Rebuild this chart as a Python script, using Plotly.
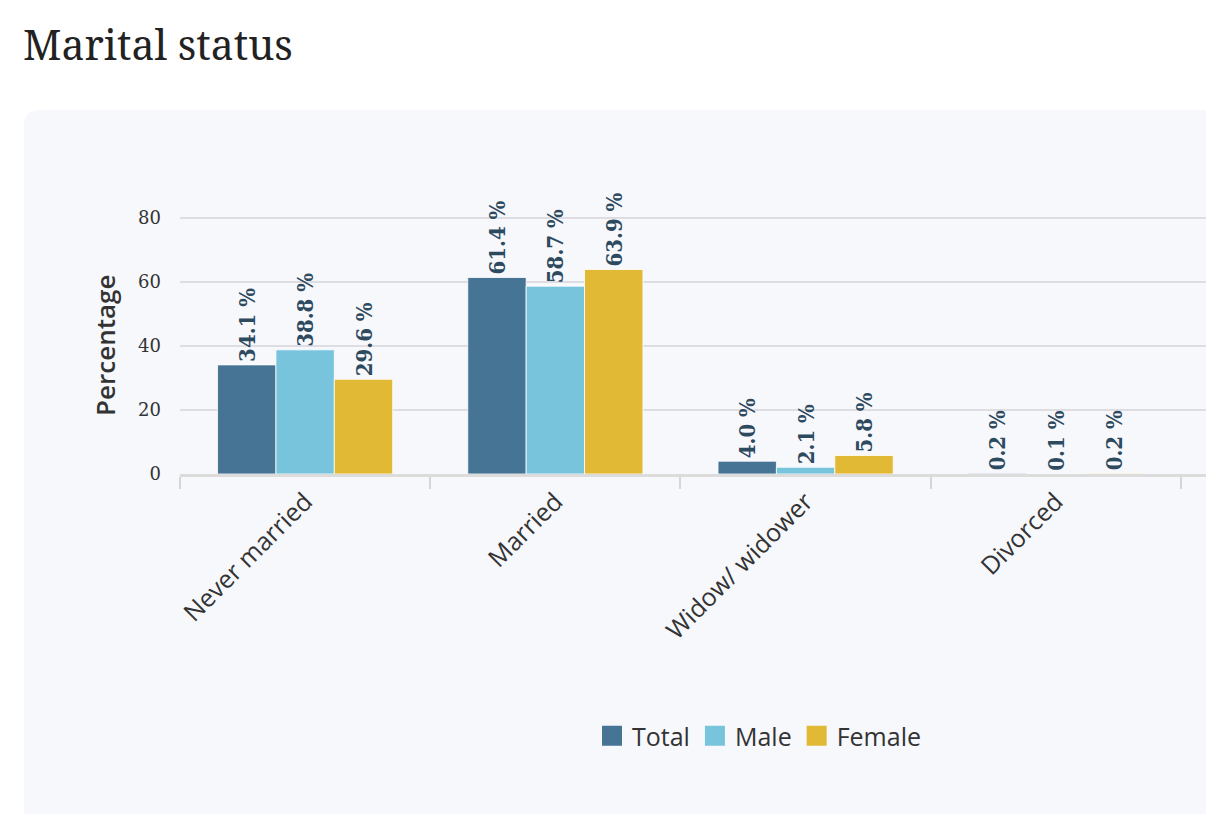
import plotly.graph_objects as go

categories = ["Never married", "Married", "Widow/ widower", "Divorced"]
total = [34.1, 61.4, 4.0, 0.2]
male = [38.8, 58.7, 2.1, 0.1]
female = [29.6, 63.9, 5.8, 0.2]
series_names = ["Total", "Male", "Female"]
y_ticks = [0, 20, 40, 60, 80]

colors = ["#467494", "#79c4dd", "#e1b935"]
W, H = 1206, 814

def px_x(p):
    return p / W

def px_y(p):
    return 1 - p / H

fig = go.Figure()
for name, vals, col in zip(series_names, [total, male, female], colors):
    fig.add_trace(go.Bar(
        name=name, x=categories, y=vals, showlegend=False, legendgroup=name,
        marker=dict(color=col, line=dict(color="rgba(255,255,255,0.8)", width=1)),
        text=[f"{v:.1f} %" for v in vals],
        textposition="outside", textangle=-90, constraintext="none",
        textfont=dict(family="DejaVu Serif Condensed", size=22, color="#2e4a5f",
                      weight="bold"),
        cliponaxis=False,
    ))
# legend entries (square swatches)
for name, col in zip(series_names, colors):
    fig.add_trace(go.Scatter(
        name=name, x=[None], y=[None], mode="markers", legendgroup=name,
        marker=dict(symbol="square", size=16, color=col,
                    line=dict(color=col, width=4)),
    ))

# panel background with rounded top-left corner
r = 16
x0, y0 = 24, 110
path = (f"M {px_x(x0)},{px_y(H+5)} L {px_x(x0)},{px_y(y0 + r)} "
        f"Q {px_x(x0)},{px_y(y0)} {px_x(x0 + r)},{px_y(y0)} "
        f"L {px_x(W + 20)},{px_y(y0)} L {px_x(W + 20)},{px_y(H + 5)} Z")
fig.add_shape(type="path", path=path, xref="paper", yref="paper",
              fillcolor="#f7f8fc", line=dict(width=0), layer="below")

fig.add_annotation(text="Marital status", xref="paper", yref="paper",
                   x=px_x(21), y=px_y(44), xanchor="left", yanchor="middle",
                   showarrow=False,
                   font=dict(family="Noto Serif, DejaVu Serif", size=41, color="#222222"))

fig.update_layout(
    template="none",
    width=W, height=H,
    margin=dict(l=0, r=0, t=0, b=0, autoexpand=False),
    paper_bgcolor="white", plot_bgcolor="rgba(0,0,0,0)",
    barmode="group", bargap=0.3, bargroupgap=0,
    showlegend=True,
    legend=dict(orientation="h", x=px_x(759), y=px_y(736), xanchor="center",
                yanchor="middle", itemwidth=30,
                font=dict(family="Open Sans", size=25, color="#333333"),
                bgcolor="rgba(0,0,0,0)"),
    xaxis=dict(domain=[px_x(180), 1.0], range=[-0.5, 3.6], automargin=False,
               tickangle=-45, tickson="boundaries", ticks="outside",
               ticklen=12, tickcolor="#d6d6d6", tickwidth=2,
               showline=True, linecolor="#dcdcdc", linewidth=3,
               tickfont=dict(family="Open Sans", size=25, color="#333333"),
               showgrid=False, fixedrange=True),
    yaxis=dict(domain=[px_y(474), px_y(216.4)], range=[0, 80.5], automargin=False,
               tickvals=y_ticks, showgrid=True, gridcolor="#dedee2",
               gridwidth=1.5, zeroline=False, ticks="", showline=False,
               tickfont=dict(family="DejaVu Serif", size=18, color="#333333"),
               ticklabelstandoff=18, fixedrange=True,
               title=dict(text="Percentage", standoff=14,
                          font=dict(family="Open Sans", size=26, color="#333333",
                                    weight=600))),
)

fig.write_html("out.html", config={"displayModeBar": False},
               post_script="document.body.style.margin='0';")
